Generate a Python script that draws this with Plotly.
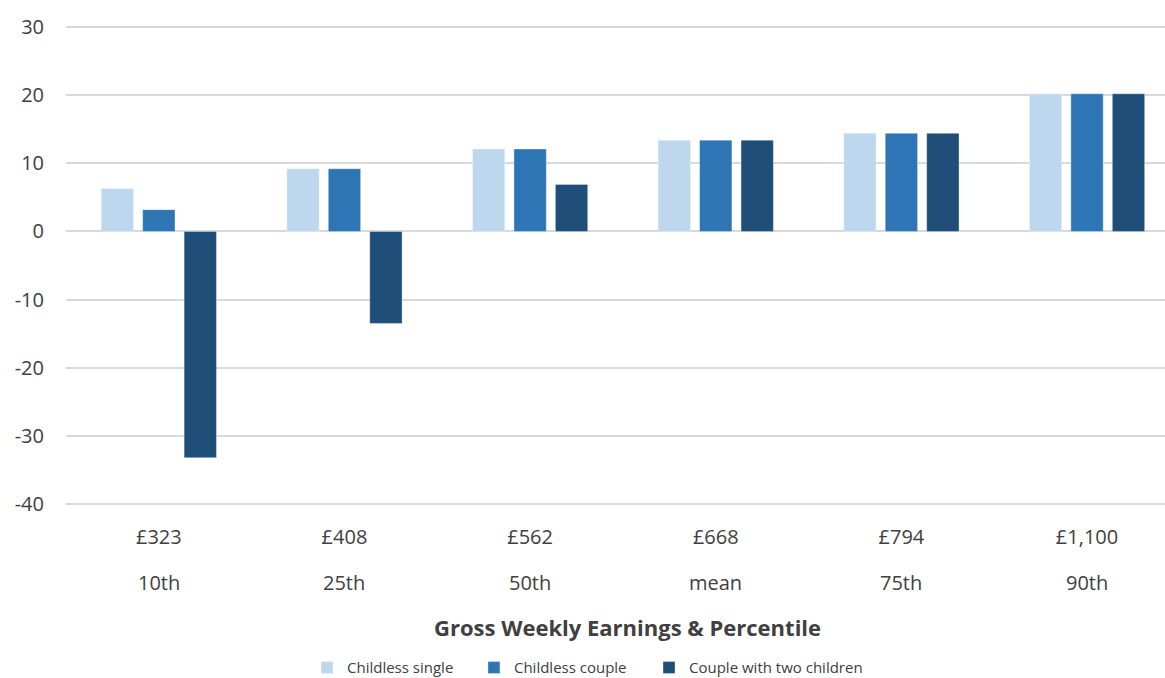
import plotly.graph_objects as go

earnings = ["£323", "£408", "£562", "£668", "£794", "£1,100"]
percentiles = ["10th", "25th", "50th", "mean", "75th", "90th"]
childless_single = [6.3, 9.2, 12.1, 13.4, 14.4, 20.2]
childless_couple = [3.2, 9.2, 12.1, 13.4, 14.4, 20.2]
couple_two_children = [-33.2, -13.5, 6.9, 13.4, 14.4, 20.2]
y_ticks = [-40, -30, -20, -10, 0, 10, 20, 30]

series = [
    ("Childless single", childless_single, "#BDD7EE"),
    ("Childless couple", childless_couple, "#2E75B6"),
    ("Couple with two children", couple_two_children, "#1F4E79"),
]

x_idx = list(range(len(percentiles)))

legend_names = ["legend", "legend2", "legend3"]
legend_x = [0.2193, 0.3712, 0.5305]

fig = go.Figure()
for (name, vals, col), lg in zip(series, legend_names):
    fig.add_trace(go.Bar(
        x=x_idx, y=vals, name=name, legend=lg,
        marker=dict(color=col, line=dict(color="rgba(255,255,255,0.35)", width=1)),
    ))

FONT = "'Open Sans', sans-serif"
TXT = "#404040"
legend_common = dict(orientation="h", xanchor="left", y=-0.34, yanchor="middle",
                     font=dict(size=15, color=TXT), itemwidth=30, bgcolor="rgba(0,0,0,0)")

annotations = [dict(text=p, x=i, xref="x", y=-0.1608, yref="paper", xanchor="center",
                    yanchor="middle", showarrow=False, font=dict(size=20, color=TXT, family=FONT))
               for i, p in zip(x_idx, percentiles)]
annotations.append(dict(text="<b>Gross Weekly Earnings & Percentile</b>", xref="paper", yref="paper",
                        x=0.5105, y=-0.255, xanchor="center", yanchor="middle", showarrow=False,
                        font=dict(size=22, color=TXT, family=FONT)))

fig.update_layout(
    width=1165, height=678,
    margin=dict(l=66, r=0, t=26, b=173, autoexpand=False),
    paper_bgcolor="white", plot_bgcolor="white",
    barmode="group", bargap=0.33, bargroupgap=0.22,
    font=dict(family=FONT, color=TXT),
    showlegend=True,
    legend=dict(x=legend_x[0], **legend_common),
    legend2=dict(x=legend_x[1], **legend_common),
    legend3=dict(x=legend_x[2], **legend_common),
    xaxis=dict(tickmode="array", tickvals=x_idx, ticktext=earnings,
               range=[-0.5, 5.42], showgrid=False, zeroline=False, showline=False,
               ticks="", ticklabelstandoff=18, tickfont=dict(size=20, color=TXT),
               automargin=False),
    yaxis=dict(range=[-40.15, 30.15], tickmode="array", tickvals=y_ticks,
               ticktext=[str(v) for v in y_ticks],
               showgrid=True, gridcolor="#D9D9D9",
               gridwidth=1.5, zeroline=True, zerolinecolor="#D9D9D9", zerolinewidth=1.5,
               showline=False, ticks="", ticklabelstandoff=21, automargin=False,
               tickfont=dict(size=20, color=TXT)),
    annotations=annotations,
)

fig.write_html("out.html", config={"displayModeBar": False},
               post_script="document.body.style.margin='0';")
